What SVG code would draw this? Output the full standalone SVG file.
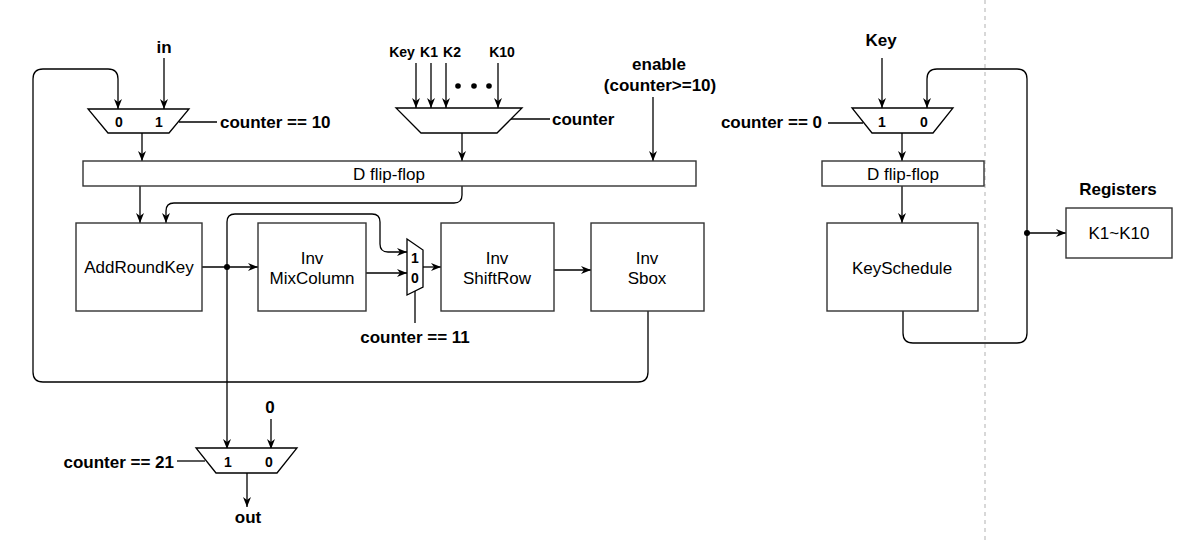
<svg xmlns="http://www.w3.org/2000/svg" width="1182" height="542" viewBox="0 0 1182 542">
<defs>
<marker id="arr" viewBox="0 0 10 8" refX="10" refY="4" markerWidth="10" markerHeight="8" markerUnits="userSpaceOnUse" orient="auto">
<path d="M0,0 L10,4 L0,8 L3,4 Z" fill="#000"/>
</marker>
<style>
.box{fill:#fff;stroke:#333;stroke-width:1.4}
.mux{fill:#fff;stroke:#000;stroke-width:1.3}
.ln{fill:none;stroke:#000;stroke-width:1.3}
.ar{fill:none;stroke:#000;stroke-width:1.3;marker-end:url(#arr)}
.t{font-family:"Liberation Sans",Arial,sans-serif;font-size:17px;fill:#000;text-anchor:middle;dominant-baseline:central}
.b{font-family:"Liberation Sans",Arial,sans-serif;font-size:17px;font-weight:bold;fill:#000;dominant-baseline:central}
.s{font-family:"Liberation Sans",Arial,sans-serif;font-size:14px;font-weight:bold;fill:#000;text-anchor:middle;dominant-baseline:central}
</style>
</defs>
<rect width="1182" height="542" fill="#fff"/>
<line x1="985" y1="0" x2="985" y2="542" stroke="#ccc" stroke-width="1.5" stroke-dasharray="4 4"/>

<g id="connectors">
<path class="ar" d="M648,311 V372 Q648,382 638,382 H43 Q33,382 33,372 V79 Q33,69 43,69 H108 Q118,69 118,79 V109"/>
<path class="ar" d="M164,58 V109"/>
<path class="ln" d="M179,122 H217"/>
<path class="ar" d="M142,133 V161"/>
<path class="ar" d="M416,63 V108"/>
<path class="ar" d="M431,63 V108"/>
<path class="ar" d="M446,63 V108"/>
<path class="ar" d="M498,63 V108"/>
<path class="ln" d="M510,119 H550"/>
<path class="ar" d="M462,133 V161"/>
<path class="ar" d="M653,97 V161"/>
<path class="ar" d="M140,186 V223"/>
<path class="ar" d="M462,186 V195 Q462,203 454,203 H174 Q166,203 166,211 V223"/>
<path class="ar" d="M202,267 H258"/>
<path class="ar" d="M227,267 V222 Q227,214 235,214 H372 Q380,214 380,222 V244 Q380,252 388,252 H407"/>
<path class="ar" d="M227,267 V449"/>
<circle cx="227" cy="267" r="3" fill="#000"/>
<path class="ar" d="M366,273 H407"/>
<path class="ar" d="M423,267 H441"/>
<path class="ln" d="M415,291 V323"/>
<path class="ar" d="M554,270 H591"/>
<path class="ar" d="M271,419 V449"/>
<path class="ln" d="M177,461 H205"/>
<path class="ar" d="M247,473 V507"/>
<path class="ar" d="M882,58 V108"/>
<path class="ln" d="M828,123 H863"/>
<path class="ar" d="M902,133 V161"/>
<path class="ar" d="M902,186 V223"/>
<path class="ar" d="M903,311 V333 Q903,343 913,343 H1017 Q1027,343 1027,333 V79 Q1027,69 1017,69 H937 Q927,69 927,79 V108"/>
<path class="ar" d="M1027,233 H1066"/>
<circle cx="1027" cy="233" r="3" fill="#000"/>
<circle cx="458" cy="86" r="2.8" fill="#000"/>
<circle cx="474" cy="86" r="2.8" fill="#000"/>
<circle cx="489" cy="86" r="2.8" fill="#000"/>
</g>

<g id="mux-in">
<polygon class="mux" points="88,109 189,109 169,133 108,133"/>
<text class="s" x="119" y="122">0</text>
<text class="s" x="159" y="122">1</text>
</g>
<g id="label-in"><text class="b" x="164" y="47" text-anchor="middle">in</text></g>
<g id="label-c10"><text class="b" x="220" y="122">counter == 10</text></g>

<g id="mux-key">
<polygon class="mux" points="396,108 522,108 497,133 421,133"/>
</g>
<g id="label-keys">
<text class="s" x="402" y="52">Key</text>
<text class="s" x="429" y="52">K1</text>
<text class="s" x="452" y="52">K2</text>
<text class="s" x="502" y="52">K10</text>
<text class="b" x="552" y="119">counter</text>
</g>
<g id="label-enable">
<text class="b" x="659" y="64" text-anchor="middle">enable</text>
<text class="b" x="660" y="85" text-anchor="middle">(counter&gt;=10)</text>
</g>

<g id="dff1">
<rect class="box" x="83" y="161" width="613" height="25"/>
<text class="t" x="389" y="174">D flip-flop</text>
</g>

<g id="addroundkey">
<rect class="box" x="76" y="223" width="126" height="88"/>
<text class="t" x="139" y="267">AddRoundKey</text>
</g>
<g id="invmixcolumn">
<rect class="box" x="258" y="223" width="108" height="88"/>
<text class="t" x="312" y="258">Inv</text>
<text class="t" x="312" y="278">MixColumn</text>
</g>
<g id="mux-round">
<polygon class="mux" points="407,239 423,250 423,287 407,295"/>
<text class="s" x="415" y="258">1</text>
<text class="s" x="415" y="278">0</text>
</g>
<g id="label-c11"><text class="b" x="415" y="337" text-anchor="middle">counter == 11</text></g>
<g id="invshiftrow">
<rect class="box" x="441" y="223" width="113" height="88"/>
<text class="t" x="497" y="258">Inv</text>
<text class="t" x="497" y="278">ShiftRow</text>
</g>
<g id="invsbox">
<rect class="box" x="591" y="223" width="113" height="88"/>
<text class="t" x="647" y="258">Inv</text>
<text class="t" x="647" y="278">Sbox</text>
</g>

<g id="mux-out">
<polygon class="mux" points="196,448 297,448 277,473 216,473"/>
<text class="s" x="228" y="462">1</text>
<text class="s" x="269" y="462">0</text>
</g>
<g id="label-zero"><text class="b" x="270" y="407" text-anchor="middle">0</text></g>
<g id="label-c21"><text class="b" x="174" y="462" text-anchor="end">counter == 21</text></g>
<g id="label-out"><text class="b" x="248" y="517" text-anchor="middle">out</text></g>

<g id="label-key2"><text class="b" x="881" y="40" text-anchor="middle">Key</text></g>
<g id="mux-ks">
<polygon class="mux" points="852,108 953,108 933,133 872,133"/>
<text class="s" x="882" y="122">1</text>
<text class="s" x="924" y="122">0</text>
</g>
<g id="label-c0"><text class="b" x="822" y="122" text-anchor="end">counter == 0</text></g>
<g id="dff2">
<rect class="box" x="822" y="161" width="162" height="25"/>
<text class="t" x="903" y="174">D flip-flop</text>
</g>
<g id="keyschedule">
<rect class="box" x="827" y="223" width="151" height="88"/>
<text class="t" x="902" y="268">KeySchedule</text>
</g>
<g id="registers">
<text class="b" x="1118" y="189" text-anchor="middle">Registers</text>
<rect class="box" x="1066" y="208" width="106" height="50"/>
<text class="t" x="1119" y="233">K1~K10</text>
</g>
</svg>
